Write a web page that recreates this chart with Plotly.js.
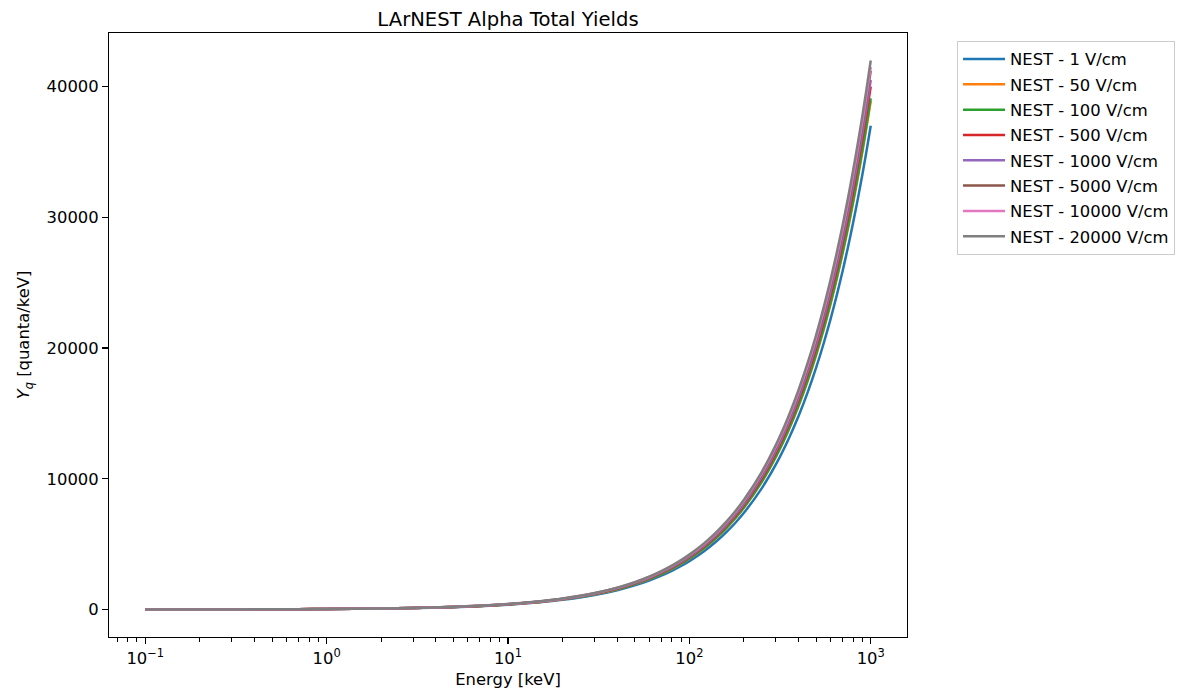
<!DOCTYPE html>
<html>
<head>
<meta charset="utf-8">
<script src="https://cdn.plot.ly/plotly-3.0.1.min.js"></script>
<style>
  html, body { margin: 0; padding: 0; background: #ffffff; }
  #chart { width: 1182px; height: 699px; }
</style>
</head>
<body>
<div id="chart"></div>
<script>
// Deposited energy [keV]
const energy = [0.1, 0.2, 0.3, 0.5, 0.7, 1, 2, 3, 5, 7, 10, 15, 20, 30, 40, 50, 60, 70, 80, 90,
                100, 120, 140, 160, 180, 200, 250, 300, 350, 400, 450, 500, 550, 600, 650, 700,
                750, 800, 850, 900, 950, 1000];

// Total quanta yields for each drift field
const yield1 = [3.7, 7.4, 11.1, 18.5, 25.9, 37, 74, 111, 185, 259, 370, 555, 740, 1110, 1480, 1850, 2220, 2590, 2960, 3330,
                3700, 4440, 5180, 5920, 6660, 7400, 9250, 11100, 12950, 14800, 16650, 18500, 20350, 22200, 24050, 25900,
                27750, 29600, 31450, 33300, 35150, 37000];
const yield50 = [3.9, 7.8, 11.7, 19.5, 27.2, 38.9, 77.8, 116.7, 194.5, 272.3, 389, 583.5, 778, 1167, 1556, 1945, 2334, 2723, 3112, 3501,
                 3890, 4668, 5446, 6224, 7002, 7780, 9725, 11670, 13615, 15560, 17505, 19450, 21395, 23340, 25285, 27230,
                 29175, 31120, 33065, 35010, 36955, 38900];
const yield100 = [3.9, 7.8, 11.7, 19.6, 27.4, 39.1, 78.2, 117.3, 195.5, 273.7, 391, 586.5, 782, 1173, 1564, 1955, 2346, 2737, 3128, 3519,
                  3910, 4692, 5474, 6256, 7038, 7820, 9775, 11730, 13685, 15640, 17595, 19550, 21505, 23460, 25415, 27370,
                  29325, 31280, 33235, 35190, 37145, 39100];
const yield500 = [4, 8, 12, 20, 28, 40, 80, 120, 200, 280, 400, 600, 800, 1200, 1600, 2000, 2400, 2800, 3200, 3600,
                  4000, 4800, 5600, 6400, 7200, 8000, 10000, 12000, 14000, 16000, 18000, 20000, 22000, 24000, 26000, 28000,
                  30000, 32000, 34000, 36000, 38000, 40000];
const yield1000 = [4.05, 8.1, 12.2, 20.3, 28.4, 40.5, 81, 121.5, 202.5, 283.5, 405, 607.5, 810, 1215, 1620, 2025, 2430, 2835, 3240, 3645,
                   4050, 4860, 5670, 6480, 7290, 8100, 10125, 12150, 14175, 16200, 18225, 20250, 22275, 24300, 26325, 28350,
                   30375, 32400, 34425, 36450, 38475, 40500];
const yield5000 = [4.1, 8.2, 12.4, 20.6, 28.8, 41.2, 82.4, 123.6, 206, 288.4, 412, 618, 824, 1236, 1648, 2060, 2472, 2884, 3296, 3708,
                   4120, 4944, 5768, 6592, 7416, 8240, 10300, 12360, 14420, 16480, 18540, 20600, 22660, 24720, 26780, 28840,
                   30900, 32960, 35020, 37080, 39140, 41200];
const yield10000 = [4.15, 8.3, 12.5, 20.8, 29.1, 41.5, 83, 124.5, 207.5, 290.5, 415, 622.5, 830, 1245, 1660, 2075, 2490, 2905, 3320, 3735,
                    4150, 4980, 5810, 6640, 7470, 8300, 10375, 12450, 14525, 16600, 18675, 20750, 22825, 24900, 26975, 29050,
                    31125, 33200, 35275, 37350, 39425, 41500];
const yield20000 = [4.2, 8.4, 12.6, 21, 29.4, 42, 84, 126, 210, 294, 420, 630, 840, 1260, 1680, 2100, 2520, 2940, 3360, 3780,
                    4200, 5040, 5880, 6720, 7560, 8400, 10500, 12600, 14700, 16800, 18900, 21000, 23100, 25200, 27300, 29400,
                    31500, 33600, 35700, 37800, 39900, 42000];

const seriesNames = ['NEST - 1 V/cm', 'NEST - 50 V/cm', 'NEST - 100 V/cm', 'NEST - 500 V/cm',
                     'NEST - 1000 V/cm', 'NEST - 5000 V/cm', 'NEST - 10000 V/cm', 'NEST - 20000 V/cm'];
const seriesValues = [yield1, yield50, yield100, yield500, yield1000, yield5000, yield10000, yield20000];
const seriesColors = ['#1f77b4', '#ff7f0e', '#2ca02c', '#d62728', '#9467bd', '#8c564b', '#e377c2', '#7f7f7f'];

// Axis tick labels
const xTickVals = [0.1, 1, 10, 100, 1000];
const xTickText = ['10<sup>\u22121</sup>', '10<sup>0</sup>', '10<sup>1</sup>', '10<sup>2</sup>', '10<sup>3</sup>'];
const xMinorVals = [0.07, 0.08, 0.09, 0.2, 0.3, 0.4, 0.5, 0.6, 0.7, 0.8, 0.9,
                    2, 3, 4, 5, 6, 7, 8, 9, 20, 30, 40, 50, 60, 70, 80, 90,
                    200, 300, 400, 500, 600, 700, 800, 900];
const yTickVals = [0, 10000, 20000, 30000, 40000];

const FONT = 'DejaVu Sans, sans-serif';

const traces = seriesNames.map((name, i) => ({
  type: 'scatter',
  mode: 'lines',
  name: name,
  legendgroup: 'g' + i,
  x: energy,
  y: seriesValues[i],
  line: { color: seriesColors[i], width: 2.5, shape: 'spline', smoothing: 0.6 },
  hoverinfo: 'x+y+name'
}));

const layout = {
  width: 1182,
  height: 699,
  paper_bgcolor: '#ffffff',
  plot_bgcolor: '#ffffff',
  margin: { l: 109, r: 275, t: 33, b: 62, pad: 0, autoexpand: false },
  font: { family: FONT, size: 16.4, color: '#000000' },
  title: {
    text: 'LArNEST Alpha Total Yields',
    font: { family: FONT, size: 19.6, color: '#000000' },
    x: 0.5, xref: 'paper', xanchor: 'center',
    y: 1, yref: 'paper', yanchor: 'bottom',
    pad: { b: 7 }
  },
  xaxis: {
    type: 'log',
    range: [Math.log10(0.1) - 0.2, Math.log10(1000) + 0.2],
    tickmode: 'array',
    tickvals: xTickVals,
    ticktext: xTickText,
    ticks: 'outside',
    ticklen: 5.7,
    tickwidth: 1.3,
    tickcolor: '#000000',
    minor: { tickmode: 'array', tickvals: xMinorVals, ticks: 'outside', ticklen: 3.3, tickwidth: 1, tickcolor: '#000000', showgrid: false },
    showgrid: false,
    zeroline: false,
    showline: true,
    linecolor: '#000000',
    linewidth: 1.3,
    mirror: true,
    tickfont: { family: FONT, size: 16.4, color: '#000000' },
    title: { text: 'Energy [keV]', font: { family: FONT, size: 16.4, color: '#000000' }, standoff: 6 },
    automargin: false
  },
  yaxis: {
    range: [-2100, 44100],
    tickmode: 'array',
    tickvals: yTickVals,
    tickformat: 'd',
    ticks: 'outside',
    ticklen: 5.7,
    tickwidth: 1.3,
    tickcolor: '#000000',
    showgrid: false,
    zeroline: false,
    showline: true,
    linecolor: '#000000',
    linewidth: 1.3,
    mirror: true,
    tickfont: { family: FONT, size: 16.4, color: '#000000' },
    title: { text: '<i>Y</i><sub><i>q</i></sub> [quanta/keV]', font: { family: FONT, size: 16.4, color: '#000000' }, standoff: 12 },
    automargin: false
  },
  showlegend: true,
  legend: {
    x: 1.0627, xanchor: 'left',
    y: 0.987, yanchor: 'top',
    bgcolor: '#ffffff',
    bordercolor: '#cccccc',
    borderwidth: 1,
    font: { family: FONT, size: 16.4, color: '#000000' },
    traceorder: 'grouped',
    tracegroupgap: 1,
    itemwidth: 42
  }
};

Plotly.newPlot('chart', traces, layout, { displayModeBar: false, staticPlot: true });
</script>
</body>
</html>
